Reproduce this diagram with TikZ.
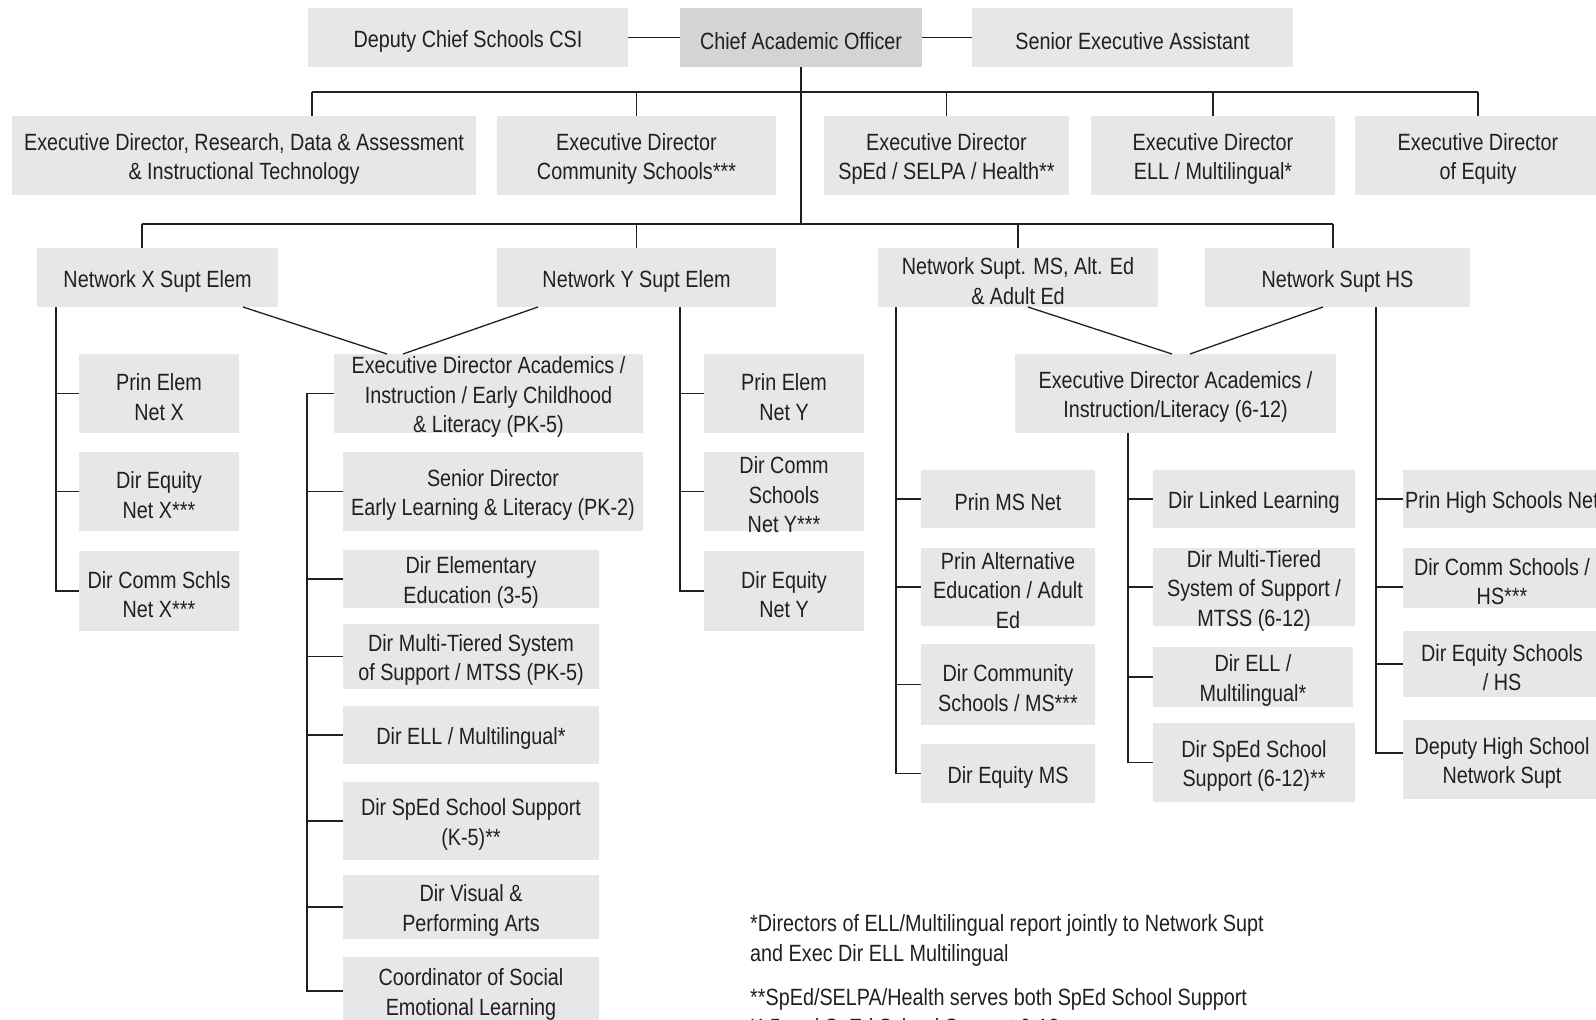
\documentclass[tikz,border=0pt]{standalone}
\usepackage{fontspec}
\setmainfont{Liberation Sans}[FakeStretch=0.842]
\definecolor{boxg}{HTML}{E6E7E8}
\definecolor{boxd}{HTML}{D3D4D5}
\definecolor{ink}{HTML}{231F20}
\newcommand{\bx}[7][boxg]{\node[box, fill=#1, minimum width=#5pt, minimum height=#6pt, label={[lbl]center:{#7}}] (#2) at (#3,#4) {};}
\begin{document}
\begin{tikzpicture}[x=1pt,y=-1pt,
  box/.style={inner sep=0pt, outer sep=0pt},
  lbl/.style={inner sep=0pt, align=center, text=ink, yshift=-3.5pt, font=\fontsize{23.5}{29.5}\selectfont},
  ln/.style={draw=ink, line width=1.3pt},
  fn/.style={anchor=base west, inner sep=0pt, text=ink, font=\fontsize{23.5}{30}\selectfont}]
\useasboundingbox (0,0) rectangle (1596,1020);
\clip (0,0) rectangle (1596,1020);
\fill[white] (0,0) rectangle (1596,1020);
% row 1
\bx{dep}{468}{37.5}{320}{59}{Deputy Chief Schools CSI}
\bx[boxd]{cao}{801}{37.5}{242}{59}{Chief Academic Officer}
\bx{sea}{1132.5}{37.5}{321}{59}{Senior Executive Assistant}
% row 2
\bx{edr}{244}{155.5}{464}{79}{Executive Director, Research, Data \& Assessment\\\& Instructional Technology}
\bx{edc}{636.5}{155.5}{279}{79}{Executive Director\\Community Schools***}
\bx{eds}{946.5}{155.5}{245}{79}{Executive Director\\SpEd / SELPA / Health**}
\bx{ede}{1213}{155.5}{244}{79}{Executive Director\\ELL / Multilingual*}
\bx{edq}{1478}{155.5}{246}{79}{Executive Director\\of Equity}
% row 3
\bx{nx}{157.5}{277.5}{241}{59}{Network X Supt Elem}
\bx{ny}{636.5}{277.5}{279}{59}{Network Y Supt Elem}
\bx{nm}{1018}{277.5}{280}{59}{Network Supt. MS, Alt. Ed\\\& Adult Ed}
\bx{nh}{1337.5}{277.5}{265}{59}{Network Supt HS}
% column X
\bx{px}{159}{393.5}{160}{79}{Prin Elem\\Net X}
\bx{qx}{159}{491.5}{160}{79}{Dir Equity\\Net X***}
\bx{cx}{159}{591}{160}{80}{Dir Comm Schls\\Net X***}
% exec PK-5
\bx{ea}{488.5}{393.5}{309}{79}{Executive Director Academics /\\Instruction / Early Childhood\\\& Literacy (PK-5)}
\bx{sd}{493}{491.5}{300}{79}{Senior Director\\Early Learning \& Literacy (PK-2)}
\bx{de}{471}{579}{256}{58}{Dir Elementary\\Education (3-5)}
\bx{dm}{471}{656.5}{256}{65}{Dir Multi-Tiered System\\of Support / MTSS (PK-5)}
\bx{dl}{471}{735}{256}{58}{Dir ELL / Multilingual*}
\bx{ds}{471}{821}{256}{78}{Dir SpEd School Support\\(K-5)**}
\bx{dv}{471}{907}{256}{64}{Dir Visual \&\\Performing Arts}
\bx{co}{471}{991}{256}{68}{Coordinator of Social\\Emotional Learning}
% column Y
\bx{py}{784}{393.5}{160}{79}{Prin Elem\\Net Y}
\bx{cy}{784}{491.5}{160}{79}{Dir Comm\\Schools\\Net Y***}
\bx{qy}{784}{591}{160}{80}{Dir Equity\\Net Y}
% column MS
\bx{pm}{1008}{499}{174}{58}{Prin MS Net}
\bx{pa}{1008}{587}{174}{78}{Prin Alternative\\Education / Adult\\Ed}
\bx{dc}{1008}{684.5}{174}{81}{Dir Community\\Schools / MS***}
\bx{qm}{1008}{773.5}{174}{59}{Dir Equity MS}
% exec 6-12
\bx{eb}{1175.5}{393.5}{321}{79}{Executive Director Academics /\\Instruction/Literacy (6-12)}
\bx{ll}{1254}{499}{202}{58}{Dir Linked Learning}
\bx{mt}{1254}{587}{202}{78}{Dir Multi-Tiered\\System of Support /\\MTSS (6-12)}
\bx{el}{1253}{677}{200}{60}{Dir ELL /\\Multilingual*}
\bx{sp}{1254}{762.5}{202}{79}{Dir SpEd School\\Support (6-12)**}
% column HS
\bx{ph}{1502}{499}{198}{58}{Prin High Schools Net}
\bx{hc}{1502}{578}{198}{60}{Dir Comm Schools /\\HS***}
\bx{hq}{1502}{664}{198}{66}{Dir Equity Schools\\/ HS}
\bx{hd}{1502}{759.5}{198}{79}{Deputy High School\\Network Supt}
% connectors
\coordinate (b1L) at (312,92);
\coordinate (b1R) at (1478,92);
\coordinate (b2L) at (142,224);
\coordinate (b2R) at (1333,224);
\coordinate (vx) at (56,300);
\coordinate (vp) at (307,300);
\coordinate (vy) at (680,300);
\coordinate (vm) at (896,300);
\coordinate (vb) at (1128,300);
\coordinate (vh) at (1376,300);
\draw[ln] (dep) -- (cao);
\draw[ln] (cao) -- (sea);
\draw[ln] (cao.south) -- (cao.south |- b2L);
\draw[ln] (b1L) -- (b1R);
\draw[ln] (b1L) -- (b1L |- edr.north);
\draw[ln] (edc.north |- b1L) -- (edc.north);
\draw[ln] (eds.north |- b1L) -- (eds.north);
\draw[ln] (ede.north |- b1L) -- (ede.north);
\draw[ln] (b1R) -- (b1R |- edq.north);
\draw[ln] (b2L) -- (b2R);
\draw[ln] (b2L) -- (b2L |- nx.north);
\draw[ln] (ny.north |- b2L) -- (ny.north);
\draw[ln] (nm.north |- b2L) -- (nm.north);
\draw[ln] (b2R) -- (b2R |- nh.north);
% column X
\draw[ln] (vx |- nx.south) |- (cx.west);
\draw[ln] (vx |- px.west) -- (px.west);
\draw[ln] (vx |- qx.west) -- (qx.west);
% PK-5
\draw[ln] ([xshift=-35pt]nx.south east) -- ([xshift=53pt]ea.north west);
\draw[ln] ([xshift=41pt]ny.south west) -- ([xshift=69pt]ea.north west);
\draw[ln] (ea.west) -| (vp |- co.west) -- (co.west);
\draw[ln] (vp |- sd.west) -- (sd.west);
\draw[ln] (vp |- de.west) -- (de.west);
\draw[ln] (vp |- dm.west) -- (dm.west);
\draw[ln] (vp |- dl.west) -- (dl.west);
\draw[ln] (vp |- ds.west) -- (ds.west);
\draw[ln] (vp |- dv.west) -- (dv.west);
% column Y
\draw[ln] (vy |- ny.south) |- (qy.west);
\draw[ln] (vy |- py.west) -- (py.west);
\draw[ln] (vy |- cy.west) -- (cy.west);
% column MS
\draw[ln] (vm |- nm.south) |- (qm.west);
\draw[ln] (vm |- pm.west) -- (pm.west);
\draw[ln] (vm |- pa.west) -- (pa.west);
\draw[ln] (vm |- dc.west) -- (dc.west);
% 6-12
\draw[ln] ([xshift=10pt]nm.south) -- ([xshift=-3.5pt]eb.north);
\draw[ln] ([xshift=-14.5pt]nh.south) -- ([xshift=14.5pt]eb.north);
\draw[ln] (vb |- eb.south) |- (sp.west);
\draw[ln] (vb |- ll.west) -- (ll.west);
\draw[ln] (vb |- mt.west) -- (mt.west);
\draw[ln] (vb |- el.west) -- (el.west);
% column HS
\draw[ln] (vh |- nh.south) |- ([yshift=6.5pt]hd.west);
\draw[ln] (vh |- ph.west) -- (ph.west);
\draw[ln] ([yshift=-9pt]vh |- hc.west) -- ([yshift=-9pt]hc.west);
\draw[ln] (vh |- hq.west) -- (hq.west);
% footnotes
\node[fn] (fn1) at (750,931) {*Directors of ELL/Multilingual report jointly to Network Supt};
\node[fn] (fn2) at (750,961) {and Exec Dir ELL Multilingual};
\node[fn] (fn3) at (750,1005) {**SpEd/SELPA/Health serves both SpEd School Support};
\node[fn] (fn4) at (750,1035) {K-5 and SpEd School Support 6-12};
\end{tikzpicture}
\end{document}
